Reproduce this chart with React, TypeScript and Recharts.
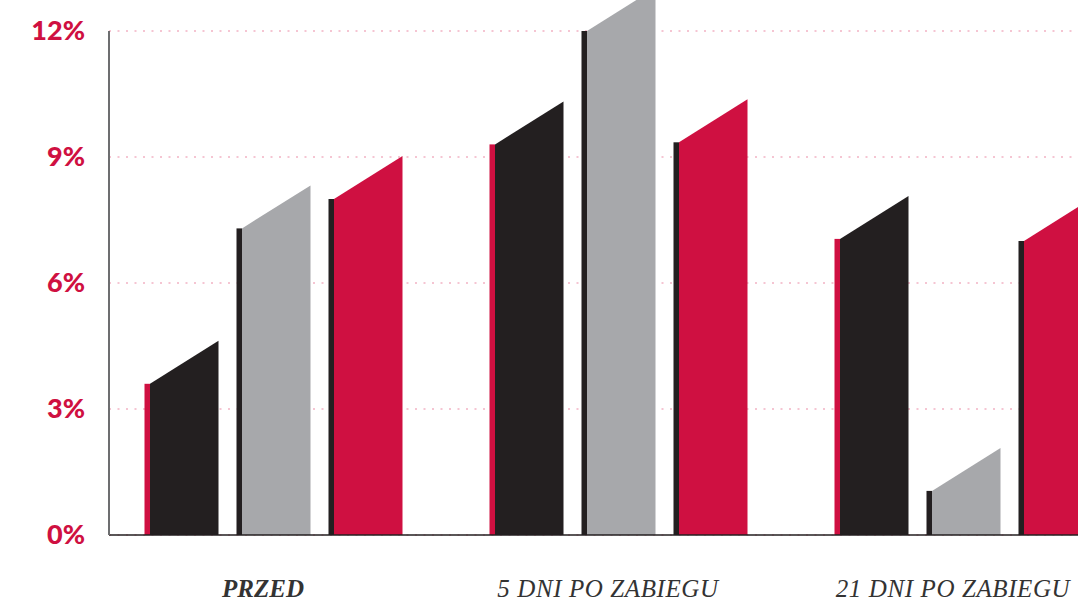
import React from 'react';
import { BarChart, Bar, XAxis, YAxis, CartesianGrid } from 'recharts';

const categories = ['PRZED', '5 DNI PO ZABIEGU', '21 DNI PO ZABIEGU'];
const blackValues = [3.6, 9.3, 7.05];
const grayValues = [7.3, 12.0, 1.05];
const redValues = [8.0, 9.35, 7.0];
const yTicks = [0, 3, 6, 9, 12];

const data = categories.map((name, i) => ({
  name,
  black: blackValues[i],
  gray: grayValues[i],
  red: redValues[i],
}));

const RED = '#cf1041';
const BLACK = '#231f20';
const GRAY = '#a7a8ab';

const makeShape = (stripColor: string) => (props: any) => {
  const { x, y, width, height, fill } = props;
  if (x == null || y == null) return <g />;
  const strip = 5.5;
  const slant = 43;
  const bottom = y + height;
  return (
    <g>
      <rect x={x} y={y} width={strip} height={height} fill={stripColor} />
      <polygon
        points={`${x + strip},${y} ${x + width},${y - slant} ${x + width},${bottom} ${x + strip},${bottom}`}
        fill={fill}
      />
    </g>
  );
};

const XTick = (props: any) => {
  const { x, y, payload } = props;
  const bold = payload.value === 'PRZED';
  return (
    <text
      x={x - 10}
      y={y}
      dy={62}
      textAnchor="middle"
      fill="#333333"
      fontFamily="'Liberation Serif', 'DejaVu Serif', serif"
      fontStyle="italic"
      fontWeight={bold ? 700 : 400}
      fontSize={25}
      letterSpacing={bold ? 0 : 0.6}
    >
      {payload.value}
    </text>
  );
};

const YTick = (props: any) => {
  const { x, y, payload } = props;
  return (
    <text
      x={x}
      y={y}
      dy={9}
      textAnchor="end"
      fill={RED}
      fontFamily="Lato, sans-serif"
      fontWeight={900}
      fontSize={27}
    >
      {`${payload.value}%`}
    </text>
  );
};

export default function App() {
  return (
    <div style={{ position: 'absolute', left: 0, top: 0, width: 1078, height: 601, overflow: 'hidden', background: '#fff' }}>
      <BarChart
        width={1078}
        height={601}
        data={data}
        margin={{ top: 31, right: 0, bottom: 0, left: 0 }}
        barSize={74}
        barGap={18}
      >
        <CartesianGrid
          vertical={false}
          stroke="#f2b3c4"
          strokeWidth={1.5}
          strokeDasharray="2 6.5"
        />
        <XAxis
          dataKey="name"
          height={66}
          padding={{ left: -8.5, right: -57.5 }}
          axisLine={{ stroke: BLACK, strokeWidth: 1.5 }}
          tickLine={false}
          tickSize={0}
          tickMargin={0}
          interval={0}
          tick={<XTick />}
        />
        <YAxis
          width={109}
          domain={[0, 12]}
          ticks={yTicks}
          axisLine={{ stroke: '#6d6e70', strokeWidth: 2 }}
          tickLine={false}
          tickSize={0}
          tickMargin={24}
          tick={<YTick />}
        />
        <Bar dataKey="black" fill={BLACK} shape={makeShape(RED)} isAnimationActive={false} />
        <Bar dataKey="gray" fill={GRAY} shape={makeShape(BLACK)} isAnimationActive={false} />
        <Bar dataKey="red" fill={RED} shape={makeShape(BLACK)} isAnimationActive={false} />
      </BarChart>
    </div>
  );
}
